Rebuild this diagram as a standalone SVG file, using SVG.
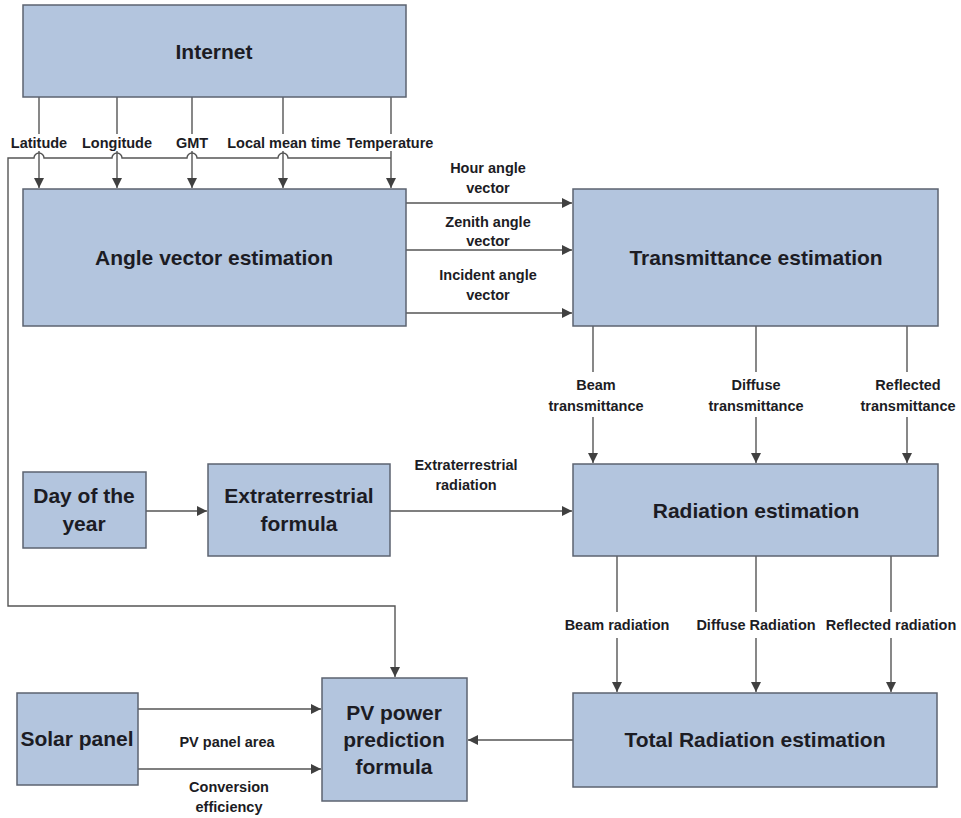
<svg xmlns="http://www.w3.org/2000/svg" width="961" height="818" viewBox="0 0 961 818">
<style>
.box{fill:#b3c5de;stroke:#5c6370;stroke-width:1.5}
.t{font-family:"Liberation Sans",Arial,sans-serif;font-weight:bold;font-size:21px;fill:#1c1c24;text-anchor:middle}
.l{font-family:"Liberation Sans",Arial,sans-serif;font-weight:bold;font-size:14.5px;fill:#1c1c24;text-anchor:middle}
.c{fill:none;stroke:#555;stroke-width:1.4}
.ca{fill:none;stroke:#555;stroke-width:1.4;marker-end:url(#ah)}
</style>
<defs>
<marker id="ah" viewBox="0 0 10 10" refX="10" refY="5" markerWidth="10" markerHeight="10" markerUnits="userSpaceOnUse" orient="auto">
<path d="M0,0 L10,5 L0,10 z" fill="#404040"/>
</marker>
</defs>
<rect width="961" height="818" fill="#fff"/>
<g id="connectors">
<!-- Internet outputs -->
<path class="c" d="M39,97 V134"/><path class="ca" d="M39,151 V188"/>
<path class="c" d="M117,97 V134"/><path class="ca" d="M117,151 V188"/>
<path class="c" d="M192,97 V134"/><path class="ca" d="M192,151 V188"/>
<path class="c" d="M283,97 V134"/><path class="ca" d="M283,151 V188"/>
<path class="c" d="M391,97 V134"/><path class="ca" d="M391,151 V188"/>
<!-- feedback line with hops -->
<path class="ca" d="M391,158 H288 a5,5 0 0 0 -10,0 H197 a5,5 0 0 0 -10,0 H122 a5,5 0 0 0 -10,0 H44 a5,5 0 0 0 -10,0 H8 V606 H395 V677"/>
<!-- angle vectors -->
<path class="ca" d="M406,203 H572"/>
<path class="ca" d="M406,250 H572"/>
<path class="ca" d="M406,313 H572"/>
<!-- transmittances -->
<path class="c" d="M593,326 V372"/><path class="ca" d="M593,417 V463"/>
<path class="c" d="M756,326 V372"/><path class="ca" d="M756,417 V463"/>
<path class="c" d="M907,326 V372"/><path class="ca" d="M907,417 V463"/>
<!-- day / extraterrestrial -->
<path class="ca" d="M146,511 H207"/>
<path class="ca" d="M390,511 H572"/>
<!-- radiations -->
<path class="c" d="M617,556 V612"/><path class="ca" d="M617,638 V692"/>
<path class="c" d="M756,556 V612"/><path class="ca" d="M756,638 V692"/>
<path class="c" d="M891,556 V612"/><path class="ca" d="M891,638 V692"/>
<!-- solar panel -->
<path class="ca" d="M138,709 H321"/>
<path class="ca" d="M138,769 H321"/>
<!-- total to PV -->
<path class="ca" d="M573,740 H468"/>
</g>
<g id="labels">
<text class="l" x="39" y="148">Latitude</text>
<text class="l" x="117" y="148">Longitude</text>
<text class="l" x="192" y="148">GMT</text>
<text class="l" x="284" y="148">Local mean time</text>
<text class="l" x="390" y="148">Temperature</text>
<text class="l" x="488" y="173">Hour angle</text>
<text class="l" x="488" y="193">vector</text>
<text class="l" x="488" y="227">Zenith angle</text>
<text class="l" x="488" y="246">vector</text>
<text class="l" x="488" y="280">Incident angle</text>
<text class="l" x="488" y="300">vector</text>
<text class="l" x="596" y="390">Beam</text>
<text class="l" x="596" y="411">transmittance</text>
<text class="l" x="756" y="390">Diffuse</text>
<text class="l" x="756" y="411">transmittance</text>
<text class="l" x="908" y="390">Reflected</text>
<text class="l" x="908" y="411">transmittance</text>
<text class="l" x="466" y="470">Extraterrestrial</text>
<text class="l" x="466" y="490">radiation</text>
<text class="l" x="617" y="630">Beam radiation</text>
<text class="l" x="756" y="630">Diffuse Radiation</text>
<text class="l" x="891" y="630">Reflected radiation</text>
<text class="l" x="227" y="747">PV panel area</text>
<text class="l" x="229" y="792">Conversion</text>
<text class="l" x="229" y="812">efficiency</text>
</g>
<g id="internet"><rect class="box" x="23" y="5" width="383" height="92"/><text class="t" x="214" y="59">Internet</text></g>
<g id="angle"><rect class="box" x="23" y="189" width="383" height="137"/><text class="t" x="214" y="265">Angle vector estimation</text></g>
<g id="transmittance"><rect class="box" x="573" y="189" width="365" height="137"/><text class="t" x="756" y="265">Transmittance estimation</text></g>
<g id="day"><rect class="box" x="23" y="472" width="123" height="76"/><text class="t" x="84" y="503">Day of the</text><text class="t" x="84" y="531">year</text></g>
<g id="extraterrestrial"><rect class="box" x="208" y="464" width="182" height="92"/><text class="t" x="299" y="503">Extraterrestrial</text><text class="t" x="299" y="531">formula</text></g>
<g id="radiation"><rect class="box" x="573" y="464" width="365" height="92"/><text class="t" x="756" y="518">Radiation estimation</text></g>
<g id="solar"><rect class="box" x="17" y="693" width="121" height="92"/><text class="t" x="77" y="746">Solar panel</text></g>
<g id="pv"><rect class="box" x="322" y="678" width="145" height="123"/><text class="t" x="394" y="720">PV power</text><text class="t" x="394" y="747">prediction</text><text class="t" x="394" y="774">formula</text></g>
<g id="total"><rect class="box" x="573" y="693" width="364" height="94"/><text class="t" x="755" y="747">Total Radiation estimation</text></g>
</svg>
